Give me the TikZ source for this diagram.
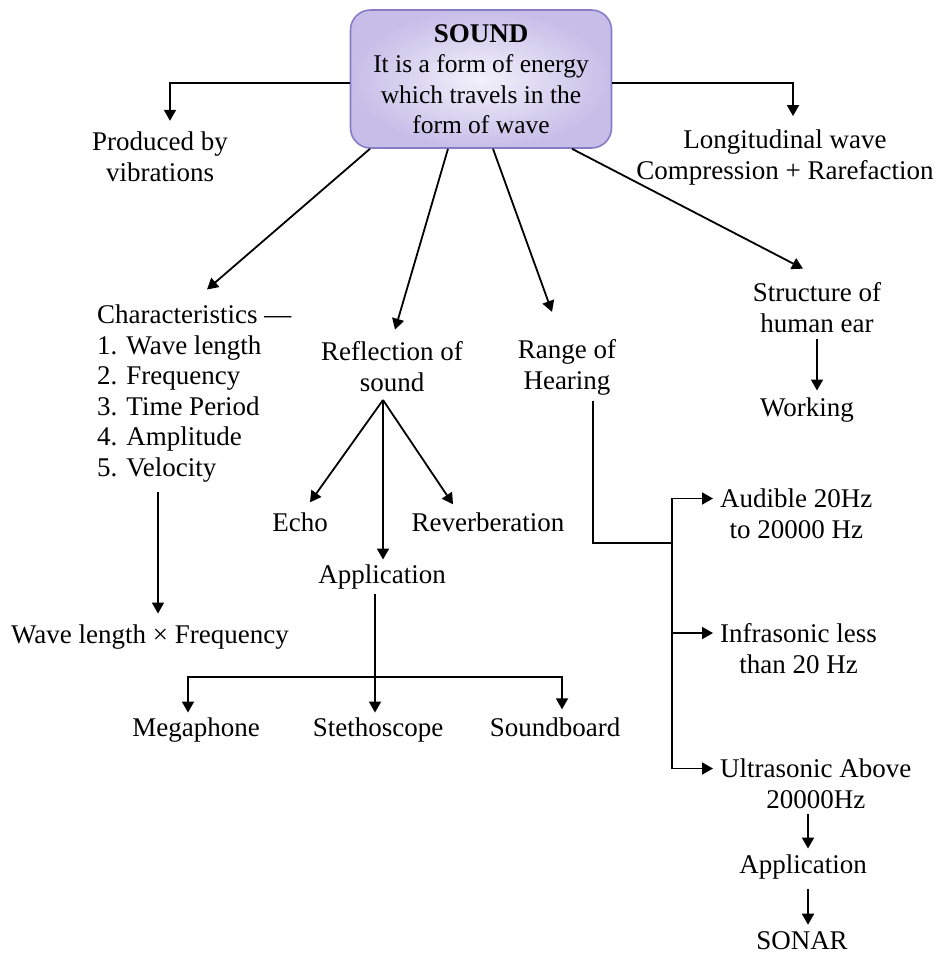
\documentclass[tikz,border=0pt]{standalone}
\usepackage{fontspec}
\setmainfont{Liberation Serif}
\usetikzlibrary{arrows.meta,calc}
\definecolor{boxin}{HTML}{F3F1FB}
\definecolor{boxout}{HTML}{C6BEE8}
\definecolor{boxline}{HTML}{877DC6}
\begin{document}
\begin{tikzpicture}[x=1pt,y=-1pt,
  txt/.style={font=\fontsize{27}{31}\selectfont, align=center, inner sep=2pt},
  soundbox/.style={draw=boxline, line width=1.6pt, rounded corners=20pt,
    minimum width=261pt, minimum height=138pt, inner color=boxin, outer color=boxout,
    align=center, font=\fontsize{25.5}{30.5}\selectfont},
  arr/.style={line width=1.8pt, -{Triangle[length=11pt,width=12pt]}},
  ln/.style={line width=1.8pt}]
\useasboundingbox (0,0) rectangle (940,957);
\fill[white] (0,0) rectangle (940,957);

% nodes
\node[soundbox] (sound) at (481,79) {{\fontsize{27}{30.5}\selectfont\bfseries SOUND}\\It is a form of energy\\which travels in the\\form of wave};
\node[txt] (prod) at (160,157) {Produced by\\vibrations};
\node[txt] (long) at (785,158) {Longitudinal wave\\Compression + Rarefaction};
\node[txt, align=left, anchor=west, font=\fontsize{27}{30.6}\selectfont] (char) at (95,393.5)
  {Characteristics —\\1. Wave length\\2. Frequency\\3. Time Period\\4. Amplitude\\5. Velocity};
\node[txt] (wlf) at (150,637) {Wave length × Frequency};
\node[txt] (refl) at (392,367) {Reflection of\\sound};
\node[txt] (echo) at (300,522) {Echo};
\node[txt] (reverb) at (488,522) {Reverberation};
\node[txt] (appa) at (382,577) {Application};
\node[txt] (mega) at (196,730) {Megaphone};
\node[txt] (steth) at (378,730) {Stethoscope};
\node[txt] (sboard) at (555,727) {Soundboard};
\node[txt] (range) at (567,367) {Range of\\Hearing};
\node[txt, anchor=west] (aud) at (718,514) {Audible 20Hz\\to 20000 Hz};
\node[txt, anchor=west] (infra) at (718,648.5) {Infrasonic less\\than 20 Hz};
\node[txt, anchor=west] (ultra) at (718,784) {Ultrasonic Above\\20000Hz};
\node[txt] (appb) at (803,867) {Application};
\node[txt] (sonar) at (802,941) {SONAR};
\node[txt] (struct) at (817,308) {Structure of\\human ear};
\node[txt] (work) at (807,410) {Working};

% top side arrows
\draw[arr] ([yshift=-4pt]sound.west) -| ([xshift=10pt,yshift=9pt]prod.north);
\draw[arr] ([yshift=-4pt]sound.east) -| ([xshift=8pt,yshift=12pt]long.north);

% diagonals
\draw[arr] ([xshift=-111pt]sound.south) -- ([shift={(112,-13)}]char.north west);
\draw[arr] ([xshift=-33pt]sound.south) -- ([shift={(3,-10)}]refl.north);
\draw[arr] ([xshift=12pt]sound.south) -- ([shift={(-15,-25)}]range.north);
\draw[arr] ([xshift=91pt]sound.south) -- ([shift={(-14,-12)}]struct.north);

% structure
\draw[arr, shorten <=4pt, shorten >=5pt] (struct.south) -- (struct.south |- work.north);

% characteristics
\draw[arr, shorten <=8pt, shorten >=9pt] ([xshift=63pt]char.south west) -- ([xshift=63pt]char.south west |- wlf.north);

% reflection fan
\coordinate (rf) at (383,400);
\draw[arr] (rf) -- ([shift={(10,-8)}]echo.north);
\draw[arr] (rf) -- ([shift={(-35,-6)}]reverb.north);
\draw[arr] (rf) -- ([shift={(1,-3)}]appa.north);

% application bar
\coordinate (bar) at (375,677);
\draw[arr, shorten <=3pt, shorten >=3pt] ([xshift=-7pt]appa.south) -- ([xshift=-7pt]appa.south |- steth.north);
\draw[arr] (bar) -| ([xshift=-8pt,yshift=3pt]mega.north);
\draw[arr] (bar) -| ([xshift=7pt,yshift=6pt]sboard.north);

% range of hearing
\coordinate (hub) at (672,543);
\draw[ln] ([shift={(26,4)}]range.south) |- (hub);
\draw[arr, shorten >=5pt] (hub) |- ([yshift=15.5pt]aud.west);
\draw[arr, shorten >=5pt] ([yshift=15.5pt]infra.west -| hub) -- ([yshift=15.5pt]infra.west);
\draw[arr, shorten >=5pt] (hub) |- ([yshift=15.5pt]ultra.west);

% ultrasonic chain
\draw[arr, shorten <=3pt, shorten >=4pt] ([xshift=5pt]appb.north |- ultra.south) -- ([xshift=5pt]appb.north);
\draw[arr, shorten <=8pt, shorten >=5pt] ([xshift=5pt]appb.south) -- ([xshift=5pt]appb.south |- sonar.north);
\end{tikzpicture}
\end{document}
